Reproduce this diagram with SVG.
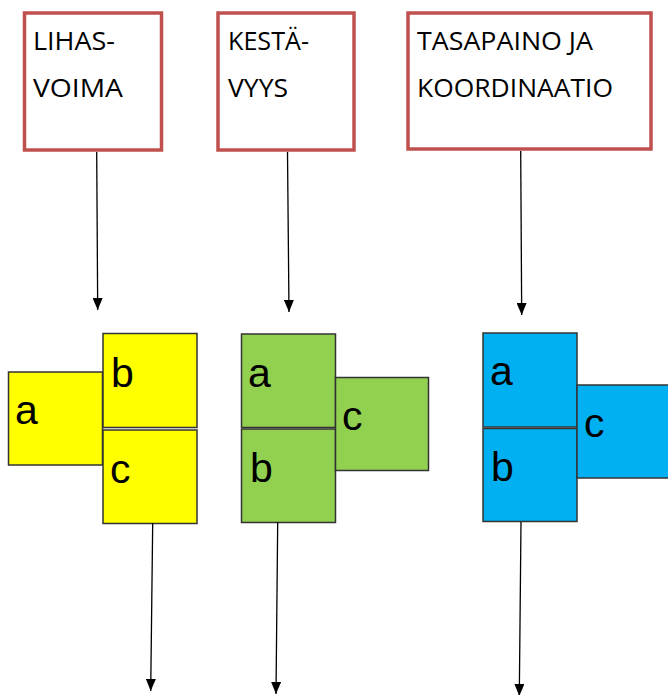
<svg xmlns="http://www.w3.org/2000/svg" width="668" height="695" viewBox="0 0 668 695">
<defs>
<marker id="ah" markerWidth="12" markerHeight="10" refX="12" refY="5" orient="auto" markerUnits="userSpaceOnUse" viewBox="0 0 12 10">
<path d="M0,0 L12,5 L0,10 Z" fill="#000"/>
</marker>
</defs>
<style>
.hdr{fill:#fff;stroke:#C0504D;stroke-width:3.5}
.ht{font-family:"Open Sans","Liberation Sans",sans-serif;font-size:25.5px;fill:#000}
.sq{stroke:#333;stroke-width:1.5}
.y{fill:#FFFF00}
.g{fill:#92D050}
.b{fill:#00B0F0}
.lt{font-family:"Liberation Sans",Arial,sans-serif;font-size:41px;fill:#000}
.con{stroke:#000;stroke-width:1.3;fill:none}
</style>
<rect width="668" height="695" fill="#fff"/>
<g id="box-lihasvoima">
<rect class="hdr" x="24.5" y="13" width="137" height="137"/>
<text class="ht" x="33" y="50" textLength="82" lengthAdjust="spacingAndGlyphs">LIHAS-</text>
<text class="ht" x="33" y="97" textLength="90" lengthAdjust="spacingAndGlyphs">VOIMA</text>
</g>
<g id="box-kestavyys">
<rect class="hdr" x="218" y="13" width="136" height="137"/>
<text class="ht" x="228" y="50" textLength="81" lengthAdjust="spacingAndGlyphs">KESTÄ-</text>
<text class="ht" x="228" y="97" textLength="60" lengthAdjust="spacingAndGlyphs">VYYS</text>
</g>
<g id="box-tasapaino">
<rect class="hdr" x="408" y="13" width="243" height="136"/>
<text class="ht" x="417" y="50" textLength="176" lengthAdjust="spacingAndGlyphs">TASAPAINO JA</text>
<text class="ht" x="417" y="97" textLength="196" lengthAdjust="spacingAndGlyphs">KOORDINAATIO</text>
</g>
<g id="yellow-group">
<rect class="sq y" x="8.5" y="372" width="94" height="93"/>
<rect class="sq y" x="103" y="333.5" width="94" height="94"/>
<rect class="sq y" x="103" y="430" width="94" height="93.5"/>
<text class="lt" x="15" y="424">a</text>
<text class="lt" x="111" y="387">b</text>
<text class="lt" x="110" y="483">c</text>
</g>
<g id="green-group">
<rect class="sq g" x="241.5" y="334" width="94" height="93.5"/>
<rect class="sq g" x="241.5" y="429" width="94" height="93.5"/>
<rect class="sq g" x="335.5" y="377.5" width="93" height="93"/>
<text class="lt" x="248" y="387">a</text>
<text class="lt" x="250" y="482">b</text>
<text class="lt" x="342" y="430">c</text>
</g>
<g id="blue-group">
<rect class="sq b" x="483" y="333" width="94" height="94"/>
<rect class="sq b" x="483" y="428.5" width="94" height="93"/>
<rect class="sq b" x="577" y="385" width="95" height="93"/>
<text class="lt" x="490" y="385">a</text>
<text class="lt" x="491" y="481">b</text>
<text class="lt" x="584" y="437">c</text>
</g>
<g id="connectors">
<line class="con" x1="96.7" y1="152" x2="97.7" y2="310" marker-end="url(#ah)"/>
<line class="con" x1="287.5" y1="152" x2="289" y2="312" marker-end="url(#ah)"/>
<line class="con" x1="520.7" y1="151" x2="521.7" y2="315" marker-end="url(#ah)"/>
<line class="con" x1="152.7" y1="523" x2="150.7" y2="691" marker-end="url(#ah)"/>
<line class="con" x1="277.7" y1="522" x2="276" y2="694" marker-end="url(#ah)"/>
<line class="con" x1="521" y1="522" x2="519.3" y2="696" marker-end="url(#ah)"/>
</g>
</svg>
